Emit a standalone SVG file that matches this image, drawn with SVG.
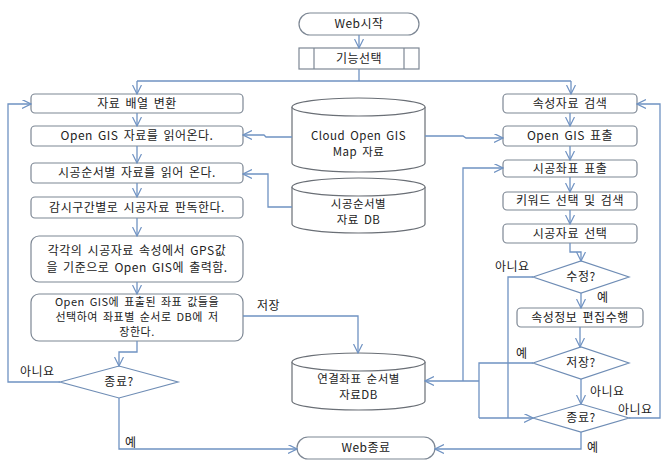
<svg xmlns="http://www.w3.org/2000/svg" width="663" height="460" viewBox="0 0 663 460">
<defs>
<marker id="ah" markerWidth="10" markerHeight="10" refX="9" refY="4.5" orient="auto" markerUnits="userSpaceOnUse">
<path d="M0,0 L9,4.5 L0,9" fill="none" stroke="#6f92c2" stroke-width="1.2"/>
</marker>
</defs>
<style>
.bx{fill:#fff;stroke:#7d8794;stroke-width:1.2}
.dm{fill:#fff;stroke:#6f8db5;stroke-width:1.2}
.cy{fill:#fff;stroke:#6a6f76;stroke-width:1.2}
.t{font-family:"Noto Sans CJK KR","Noto Sans",sans-serif;font-size:12px;fill:#222;text-anchor:middle;letter-spacing:0.5px;word-spacing:2px}
.s{font-size:11px}
.m{font-size:11.5px}
.l{font-family:"Noto Sans CJK KR","Noto Sans",sans-serif;font-size:12px;fill:#222;letter-spacing:0.5px}
.c{fill:none;stroke:#6f92c2;stroke-width:1.3}
.a{marker-end:url(#ah)}
</style>
<rect width="663" height="460" fill="#fff"/>

<g id="web_start"><rect class="bx" x="299" y="13" width="120" height="22" rx="11"/><text class="t" x="359" y="28">Web시작</text></g>
<g id="func_select"><rect class="bx" x="299" y="48" width="120" height="21"/><line class="bx" x1="314" y1="48" x2="314" y2="69"/><line class="bx" x1="404" y1="48" x2="404" y2="69"/><text class="t" x="359" y="63">기능선택</text></g>

<g id="b1"><rect class="bx" x="31" y="94" width="212" height="19" rx="4"/><text class="t" x="137" y="108">자료 배열 변환</text></g>
<g id="b2"><rect class="bx" x="31" y="126" width="212" height="20" rx="4"/><text class="t" x="137" y="140">Open GIS 자료를 읽어온다.</text></g>
<g id="b3"><rect class="bx" x="31" y="163" width="212" height="20" rx="4"/><text class="t" x="137" y="177">시공순서별 자료를 읽어 온다.</text></g>
<g id="b4"><rect class="bx" x="31" y="197" width="212" height="21" rx="4"/><text class="t" x="137" y="212">감시구간별로 시공자료 판독한다.</text></g>
<g id="b5"><rect class="bx" x="31" y="236" width="212" height="46" rx="8"/><text class="t" x="137" y="255">각각의 시공자료 속성에서 GPS값</text><text class="t" x="137" y="272">을 기준으로 Open GIS에 출력함.</text></g>
<g id="b6"><rect class="bx" x="31" y="294" width="212" height="47" rx="8"/><text class="t s" x="137" y="306">Open GIS에 표출된 좌표 값들을</text><text class="t s" x="137" y="321">선택하여 좌표별 순서로 DB에 저</text><text class="t s" x="137" y="336">장한다.</text></g>
<g id="end_left"><polygon class="dm" points="60,382 119,366 178,382 119,398"/><text class="t" x="119" y="386">종료?</text></g>

<g id="db_cloud"><path class="cy" d="M292,107 A66.5,9 0 0 1 425,107 L425,163 A66.5,9 0 0 1 292,163 Z"/><path class="cy" d="M292,107 A66.5,9 0 0 0 425,107"/><text class="t m" x="358.5" y="140">Cloud Open GIS</text><text class="t m" x="358.5" y="156">Map 자료</text></g>
<g id="db_order"><path class="cy" d="M292,187 A66.5,9 0 0 1 425,187 L425,224 A66.5,9 0 0 1 292,224 Z"/><path class="cy" d="M292,187 A66.5,9 0 0 0 425,187"/><text class="t m" x="358.5" y="208">시공순서별</text><text class="t m" x="358.5" y="224">자료 DB</text></g>
<g id="db_coord"><path class="cy" d="M292,362 A66.5,9 0 0 1 425,362 L425,401 A66.5,9 0 0 1 292,401 Z"/><path class="cy" d="M292,362 A66.5,9 0 0 0 425,362"/><text class="t m" x="358.5" y="383">연결좌표 순서별</text><text class="t m" x="358.5" y="399">자료DB</text></g>
<g id="web_end"><rect class="bx" x="297" y="437" width="138" height="22" rx="11"/><text class="t" x="366" y="452">Web종료</text></g>

<g id="r1"><rect class="bx" x="503" y="94" width="134" height="19" rx="4"/><text class="t" x="570" y="108">속성자료 검색</text></g>
<g id="r2"><rect class="bx" x="503" y="126" width="134" height="20" rx="4"/><text class="t" x="570" y="140">Open GIS 표출</text></g>
<g id="r3"><rect class="bx" x="503" y="160" width="134" height="17" rx="4"/><text class="t" x="570" y="173">시공좌표 표출</text></g>
<g id="r4"><rect class="bx" x="503" y="192" width="134" height="18" rx="4"/><text class="t" x="570" y="205">키워드 선택 및 검색</text></g>
<g id="r5"><rect class="bx" x="503" y="224" width="134" height="19" rx="4"/><text class="t" x="570" y="238">시공자료 선택</text></g>
<g id="modify"><polygon class="dm" points="533,277 581,261 629,277 581,293"/><text class="t" x="581" y="281">수정?</text></g>
<g id="r6"><rect class="bx" x="517" y="308" width="126" height="19" rx="4"/><text class="t" x="580" y="322">속성정보 편집수행</text></g>
<g id="save"><polygon class="dm" points="533,363 581,347 629,363 581,379"/><text class="t" x="581" y="367">저장?</text></g>
<g id="end_right"><polygon class="dm" points="533,418 581,404 629,418 581,432"/><text class="t" x="581" y="422">종료?</text></g>

<g id="connectors">
<line class="c a" x1="359" y1="35" x2="359" y2="48"/>
<polyline class="c" points="359,69 359,81"/>
<line class="c" x1="137" y1="81" x2="571" y2="81"/>
<line class="c a" x1="137" y1="81" x2="137" y2="94"/>
<line class="c a" x1="571" y1="81" x2="571" y2="94"/>
<line class="c a" x1="137" y1="113" x2="137" y2="126"/>
<line class="c a" x1="137" y1="146" x2="137" y2="163"/>
<line class="c a" x1="137" y1="183" x2="137" y2="197"/>
<line class="c a" x1="137" y1="218" x2="137" y2="236"/>
<line class="c a" x1="137" y1="282" x2="137" y2="294"/>
<polyline class="c a" points="137,341 137,352 119,352 119,366"/>
<polyline class="c a" points="60,382 8,382 8,104 31,104"/>
<polyline class="c a" points="119,398 119,449 297,449"/>
<polyline class="c a" points="292,137 266,137 264,135 243,135"/>
<polyline class="c a" points="425,136 463,136 466,138 503,138"/>
<polyline class="c a" points="292,207 268,207 268,174 243,174"/>
<polyline class="c a" points="243,316 358,316 358,353"/>
<line class="c a" x1="570" y1="113" x2="570" y2="126"/>
<line class="c a" x1="570" y1="146" x2="570" y2="160"/>
<line class="c a" x1="570" y1="177" x2="570" y2="192"/>
<line class="c a" x1="570" y1="210" x2="570" y2="224"/>
<polyline class="c a" points="570,243 570,252 581,252 581,261"/>
<polyline class="c" points="533,277 508,277 508,418"/>
<line class="c a" x1="581" y1="293" x2="581" y2="308"/>
<line class="c a" x1="580" y1="327" x2="580" y2="347"/>
<polyline class="c" points="533,363 479,363 479,418"/>
<polyline class="c a" points="479,381 425,381"/>
<polyline class="c a" points="463,381 463,168 503,168"/>
<line class="c a" x1="479" y1="418" x2="533" y2="418"/>
<line class="c a" x1="581" y1="379" x2="581" y2="404"/>
<polyline class="c a" points="629,418 660,418 660,104 637,104"/>
<polyline class="c a" points="581,432 581,449 435,449"/>
<text class="l" x="20" y="376">아니요</text>
<text class="l" x="125" y="447">예</text>
<text class="l" x="257" y="310">저장</text>
<text class="l" x="495" y="271">아니요</text>
<text class="l" x="597" y="302">예</text>
<text class="l" x="516" y="358">예</text>
<text class="l" x="590" y="396">아니요</text>
<text class="l" x="618" y="414">아니요</text>
<text class="l" x="587" y="452">예</text>
</g>
</svg>
